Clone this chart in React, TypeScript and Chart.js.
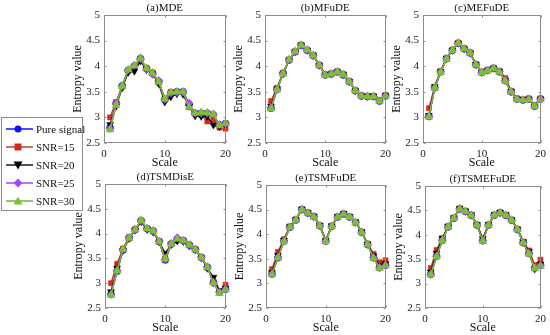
import React, { useEffect, useRef } from 'react';
import { Chart, registerables } from 'chart.js';

Chart.register(...registerables);

const scaleValues = [1, 2, 3, 4, 5, 6, 7, 8, 9, 10, 11, 12, 13, 14, 15, 16, 17, 18, 19, 20];
const yTicks = [2.5, 3, 3.5, 4, 4.5, 5];
const xTicks = [0, 10, 20];
const seriesNames = ['Pure signal', 'SNR=15', 'SNR=20', 'SNR=25', 'SNR=30'];
const panelTitles = ['(a)MDE', '(b)MFuDE', '(c)MEFuDE', '(d)TSMDisE', '(e)TSMFuDE', '(f)TSMEFuDE'];

// (a) MDE
const mdePure = [2.80, 3.28, 3.62, 3.92, 4.00, 4.15, 3.95, 3.86, 3.70, 3.35, 3.48, 3.50, 3.50, 3.25, 3.08, 3.08, 3.08, 3.05, 2.85, 2.88];
const mde15 = [3.00, 3.30, 3.60, 3.92, 4.00, 4.13, 3.97, 3.88, 3.68, 3.37, 3.50, 3.50, 3.50, 3.20, 3.08, 3.05, 2.92, 2.95, 2.80, 2.78];
const mde20 = [2.86, 3.22, 3.58, 3.88, 3.90, 4.10, 3.93, 3.85, 3.66, 3.30, 3.40, 3.46, 3.45, 3.22, 3.03, 3.02, 3.02, 2.85, 2.82, 2.86];
const mde25 = [2.78, 3.27, 3.62, 3.93, 4.02, 4.14, 3.94, 3.84, 3.72, 3.35, 3.47, 3.49, 3.49, 3.28, 3.08, 3.08, 3.08, 3.06, 2.86, 2.88];
const mde30 = [2.76, 3.24, 3.61, 3.93, 4.01, 4.16, 3.96, 3.87, 3.69, 3.36, 3.49, 3.50, 3.50, 3.20, 3.08, 3.10, 3.09, 3.06, 2.84, 2.88];

// (b) MFuDE
const mfudePure = [3.18, 3.55, 3.86, 4.12, 4.28, 4.41, 4.31, 4.21, 4.02, 3.83, 3.85, 3.89, 3.83, 3.70, 3.52, 3.42, 3.41, 3.41, 3.32, 3.42];
const mfude15 = [3.32, 3.58, 3.87, 4.13, 4.29, 4.42, 4.32, 4.22, 4.03, 3.84, 3.86, 3.90, 3.85, 3.71, 3.53, 3.43, 3.42, 3.42, 3.34, 3.44];
const mfude20 = [3.22, 3.56, 3.85, 4.12, 4.28, 4.41, 4.31, 4.21, 4.02, 3.83, 3.85, 3.89, 3.84, 3.70, 3.52, 3.42, 3.41, 3.42, 3.33, 3.43];
const mfude25 = [3.19, 3.55, 3.86, 4.12, 4.28, 4.41, 4.31, 4.21, 4.02, 3.83, 3.85, 3.89, 3.83, 3.70, 3.52, 3.42, 3.41, 3.41, 3.32, 3.42];
const mfude30 = [3.17, 3.54, 3.85, 4.13, 4.29, 4.41, 4.32, 4.21, 4.02, 3.82, 3.85, 3.89, 3.84, 3.70, 3.52, 3.42, 3.41, 3.41, 3.32, 3.42];

// (c) MEFuDE
const mefudePure = [3.02, 3.58, 3.89, 4.15, 4.31, 4.45, 4.34, 4.26, 4.03, 3.88, 3.92, 3.96, 3.89, 3.72, 3.50, 3.36, 3.34, 3.36, 3.22, 3.36];
const mefude15 = [3.18, 3.60, 3.90, 4.16, 4.32, 4.46, 4.35, 4.27, 4.04, 3.89, 3.93, 3.97, 3.91, 3.77, 3.52, 3.37, 3.35, 3.37, 3.24, 3.37];
const mefude20 = [3.04, 3.60, 3.90, 4.15, 4.31, 4.45, 4.34, 4.26, 4.04, 3.88, 3.92, 3.96, 3.90, 3.73, 3.51, 3.36, 3.35, 3.36, 3.23, 3.36];
const mefude25 = [3.02, 3.58, 3.89, 4.15, 4.31, 4.45, 4.34, 4.26, 4.03, 3.88, 3.92, 3.96, 3.89, 3.72, 3.50, 3.36, 3.34, 3.36, 3.22, 3.36];
const mefude30 = [3.01, 3.57, 3.88, 4.14, 4.31, 4.45, 4.34, 4.26, 4.03, 3.87, 3.91, 3.96, 3.89, 3.71, 3.50, 3.35, 3.34, 3.35, 3.22, 3.35];

// (d) TSMDisE
const tsmdisePure = [2.78, 3.24, 3.67, 3.91, 4.08, 4.26, 4.10, 4.05, 3.84, 3.47, 3.79, 3.88, 3.86, 3.77, 3.68, 3.52, 3.32, 3.02, 2.82, 2.88];
const tsmdise15 = [3.00, 3.39, 3.70, 3.93, 4.09, 4.26, 4.11, 4.06, 3.85, 3.50, 3.80, 3.88, 3.86, 3.78, 3.69, 3.53, 3.33, 3.05, 2.84, 2.97];
const tsmdise20 = [2.83, 3.30, 3.66, 3.90, 4.07, 4.24, 4.08, 4.03, 3.83, 3.60, 3.78, 3.85, 3.84, 3.75, 3.67, 3.51, 3.30, 3.12, 2.85, 2.90];
const tsmdise25 = [2.77, 3.25, 3.68, 3.92, 4.08, 4.26, 4.10, 4.05, 3.84, 3.48, 3.80, 3.92, 3.86, 3.77, 3.68, 3.52, 3.33, 3.00, 2.82, 2.88];
const tsmdise30 = [2.76, 3.25, 3.68, 3.91, 4.08, 4.27, 4.10, 4.06, 3.84, 3.49, 3.79, 3.89, 3.86, 3.77, 3.68, 3.52, 3.32, 3.01, 2.80, 2.87];

// (e) TSMFuDE
const tsmfudePure = [3.19, 3.52, 3.86, 4.14, 4.29, 4.50, 4.43, 4.36, 4.17, 3.86, 4.16, 4.35, 4.41, 4.35, 4.24, 4.04, 3.79, 3.52, 3.32, 3.37];
const tsmfude15 = [3.29, 3.64, 3.90, 4.16, 4.30, 4.51, 4.44, 4.37, 4.18, 3.88, 4.17, 4.36, 4.42, 4.36, 4.25, 4.05, 3.81, 3.60, 3.43, 3.47];
const tsmfude20 = [3.22, 3.57, 3.88, 4.15, 4.30, 4.51, 4.44, 4.36, 4.18, 3.87, 4.17, 4.36, 4.42, 4.36, 4.25, 4.05, 3.80, 3.56, 3.36, 3.40];
const tsmfude25 = [3.19, 3.53, 3.86, 4.14, 4.29, 4.50, 4.43, 4.36, 4.17, 3.86, 4.16, 4.35, 4.41, 4.35, 4.24, 4.04, 3.79, 3.52, 3.32, 3.37];
const tsmfude30 = [3.18, 3.52, 3.85, 4.14, 4.29, 4.50, 4.43, 4.35, 4.17, 3.85, 4.16, 4.35, 4.41, 4.35, 4.24, 4.04, 3.79, 3.51, 3.31, 3.36];

// (f) TSMEFuDE
const tsmefudePure = [3.19, 3.56, 3.89, 4.16, 4.34, 4.53, 4.48, 4.40, 4.20, 3.88, 4.20, 4.40, 4.45, 4.40, 4.30, 4.11, 3.84, 3.62, 3.32, 3.37];
const tsmefude15 = [3.32, 3.69, 3.93, 4.18, 4.35, 4.54, 4.49, 4.41, 4.21, 3.92, 4.21, 4.41, 4.46, 4.41, 4.31, 4.12, 3.86, 3.68, 3.38, 3.49];
const tsmefude20 = [3.24, 3.62, 3.93, 4.17, 4.35, 4.54, 4.49, 4.41, 4.21, 3.92, 4.21, 4.41, 4.46, 4.41, 4.31, 4.12, 3.86, 3.66, 3.30, 3.40];
const tsmefude25 = [3.19, 3.56, 3.89, 4.16, 4.34, 4.53, 4.48, 4.40, 4.20, 3.88, 4.20, 4.40, 4.45, 4.40, 4.30, 4.11, 3.84, 3.62, 3.32, 3.37];
const tsmefude30 = [3.18, 3.55, 3.88, 4.16, 4.34, 4.53, 4.48, 4.40, 4.20, 3.87, 4.20, 4.40, 4.45, 4.40, 4.30, 4.11, 3.84, 3.61, 3.31, 3.36];

const panelData = [
  [mdePure, mde15, mde20, mde25, mde30],
  [mfudePure, mfude15, mfude20, mfude25, mfude30],
  [mefudePure, mefude15, mefude20, mefude25, mefude30],
  [tsmdisePure, tsmdise15, tsmdise20, tsmdise25, tsmdise30],
  [tsmfudePure, tsmfude15, tsmfude20, tsmfude25, tsmfude30],
  [tsmefudePure, tsmefude15, tsmefude20, tsmefude25, tsmefude30],
];

// plot-area rectangles [left, top, right, bottom] in page pixels
const panelRects = [
  [104, 15, 228, 143],
  [265, 15, 388, 143],
  [423, 15, 543, 143],
  [105, 184, 228, 308],
  [266, 185, 388, 308],
  [425, 186, 543, 308],
];

const SERIF = '"Liberation Serif", "Times New Roman", serif';
const FRAME = '#8c8c8c';

const seriesStyle = [
  { color: '#1010ff', line: '#1010ff', point: 'circle', rotation: 0, radius: 3.5 },
  { color: '#d42a1e', line: '#b8402a', point: 'rect', rotation: 0, radius: 3.6 },
  { color: '#000000', line: '#1a1a1a', point: 'triangle', rotation: 180, radius: 4 },
  { color: '#a347ff', line: '#a347ff', point: 'rectRot', rotation: 0, radius: 4 },
  { color: '#7cc230', line: '#77b52c', point: 'triangle', rotation: 0, radius: 4.6 },
];

const Y_W = 34;
const X_H = 28;
const PAD_TOP = 15;
const PAD_RIGHT = 8;

const framePlugin = {
  id: 'panelFrame',
  afterDatasetsDraw(chart: any, _args: any, opts: any) {
    const { ctx, chartArea: a } = chart;
    const xs = chart.scales.x;
    const ys = chart.scales.y;
    ctx.save();
    ctx.strokeStyle = FRAME;
    ctx.lineWidth = 1;
    const l = Math.round(a.left) + 0.5;
    const t = Math.round(a.top) + 0.5;
    const r = Math.round(a.right) - 0.5;
    const b = Math.round(a.bottom) - 0.5;
    ctx.strokeRect(l, t, r - l, b - t);
    ctx.beginPath();
    for (const v of xTicks) {
      const px = Math.round(xs.getPixelForValue(v)) + 0.5;
      ctx.moveTo(px, b); ctx.lineTo(px, b - 2);
      ctx.moveTo(px, t); ctx.lineTo(px, t + 2);
    }
    for (const v of yTicks) {
      const py = Math.round(ys.getPixelForValue(v)) + 0.5;
      ctx.moveTo(l, py); ctx.lineTo(l + 2, py);
      ctx.moveTo(r, py); ctx.lineTo(r - 2, py);
    }
    ctx.stroke();
    ctx.fillStyle = '#111';
    ctx.font = '11px ' + SERIF;
    ctx.textAlign = 'center';
    ctx.textBaseline = 'middle';
    ctx.fillText(opts.title, (a.left + a.right) / 2, a.top - 7);
    ctx.restore();
  },
};

function Panel({ index }: { index: number }) {
  const ref = useRef<HTMLCanvasElement | null>(null);
  const [L, T, R, B] = panelRects[index];
  const cw = R - L + Y_W + PAD_RIGHT;
  const ch = B - T + PAD_TOP + X_H;
  useEffect(() => {
    if (!ref.current) return;
    const series = panelData[index];
    const chart = new Chart(ref.current, {
      type: 'line',
      data: {
        datasets: series.map((vals, si) => ({
          label: seriesNames[si],
          data: vals.map((y, i) => ({ x: scaleValues[i], y })),
          order: series.length - 1 - si,
          borderColor: seriesStyle[si].line,
          backgroundColor: seriesStyle[si].color,
          pointBackgroundColor: seriesStyle[si].color,
          pointBorderColor: seriesStyle[si].color,
          pointStyle: seriesStyle[si].point as any,
          pointRotation: seriesStyle[si].rotation,
          pointRadius: seriesStyle[si].radius,
          pointBorderWidth: 0.5,
          borderWidth: 1.5,
          tension: 0,
          clip: false as any,
        })),
      },
      options: {
        responsive: false,
        animation: false,
        events: [],
        layout: { padding: { left: 0, right: PAD_RIGHT, top: PAD_TOP, bottom: 0 } },
        plugins: {
          legend: { display: false },
          tooltip: { enabled: false },
          panelFrame: { title: panelTitles[index] },
        } as any,
        scales: {
          x: {
            type: 'linear',
            min: 0,
            max: 20,
            afterFit: (s: any) => { s.height = X_H; },
            afterBuildTicks: (s: any) => { s.ticks = xTicks.map((v) => ({ value: v })); },
            grid: { display: false, drawTicks: false },
            border: { display: false },
            ticks: { padding: 5, color: '#222', font: { family: SERIF, size: 11 }, callback: (v: any) => String(v), maxRotation: 0 },
            title: { display: true, text: 'Scale', color: '#111', font: { family: SERIF, size: 12 }, padding: { top: 0, bottom: 1 } },
          },
          y: {
            type: 'linear',
            min: 2.5,
            max: 5,
            afterFit: (s: any) => { s.width = Y_W; },
            afterBuildTicks: (s: any) => { s.ticks = yTicks.map((v) => ({ value: v })); },
            grid: { display: false, drawTicks: false },
            border: { display: false },
            ticks: { padding: 4, color: '#222', font: { family: SERIF, size: 11 }, callback: (v: any) => String(v) },
            title: { display: true, text: 'Entropy value', color: '#111', font: { family: SERIF, size: 12 }, padding: { top: 1, bottom: 0 } },
          },
        },
      },
      plugins: [framePlugin as any],
    });
    return () => chart.destroy();
  }, [index]);
  return (
    <canvas
      ref={ref}
      width={cw}
      height={ch}
      style={{ position: 'absolute', left: L - Y_W, top: T - PAD_TOP, width: cw, height: ch }}
    />
  );
}

function Marker({ si }: { si: number }) {
  const c = seriesStyle[si].color;
  const cx = 13;
  const cy = 6;
  if (si === 0) return <circle cx={cx} cy={cy} r={3.5} fill={c} />;
  if (si === 1) return <rect x={cx - 3.5} y={cy - 3.5} width={7} height={7} fill={c} />;
  if (si === 2) return <polygon points={`${cx - 4.5},${cy - 3.5} ${cx + 4.5},${cy - 3.5} ${cx},${cy + 4.5}`} fill={c} />;
  if (si === 3) return <polygon points={`${cx},${cy - 4.5} ${cx + 4.5},${cy} ${cx},${cy + 4.5} ${cx - 4.5},${cy}`} fill={c} />;
  return <polygon points={`${cx - 4.5},${cy + 3.5} ${cx + 4.5},${cy + 3.5} ${cx},${cy - 4.5}`} fill={c} />;
}

function Legend() {
  return (
    <div
      style={{
        position: 'absolute',
        left: 1,
        top: 117,
        width: 82,
        height: 94,
        border: `1px solid ${FRAME}`,
        background: '#fff',
        boxSizing: 'border-box',
      }}
    >
      {seriesNames.map((name, si) => (
        <div key={name} style={{ position: 'absolute', left: 0, top: 4 + si * 18, height: 14, display: 'flex', alignItems: 'center' }}>
          <svg width={31} height={12} style={{ marginLeft: 3, display: 'block' }}>
            <line x1={1} y1={6} x2={28} y2={6} stroke={seriesStyle[si].line} strokeWidth={1.5} />
            <Marker si={si} />
          </svg>
          <span style={{ fontFamily: SERIF, fontSize: 11, color: '#111', whiteSpace: 'nowrap', lineHeight: '14px' }}>{name}</span>
        </div>
      ))}
    </div>
  );
}

export default function App() {
  return (
    <div style={{ position: 'fixed', left: 0, top: 0, width: 550, height: 335, background: '#fff', overflow: 'hidden' }}>
      {panelTitles.map((_, i) => (
        <Panel key={i} index={i} />
      ))}
      <Legend />
    </div>
  );
}
